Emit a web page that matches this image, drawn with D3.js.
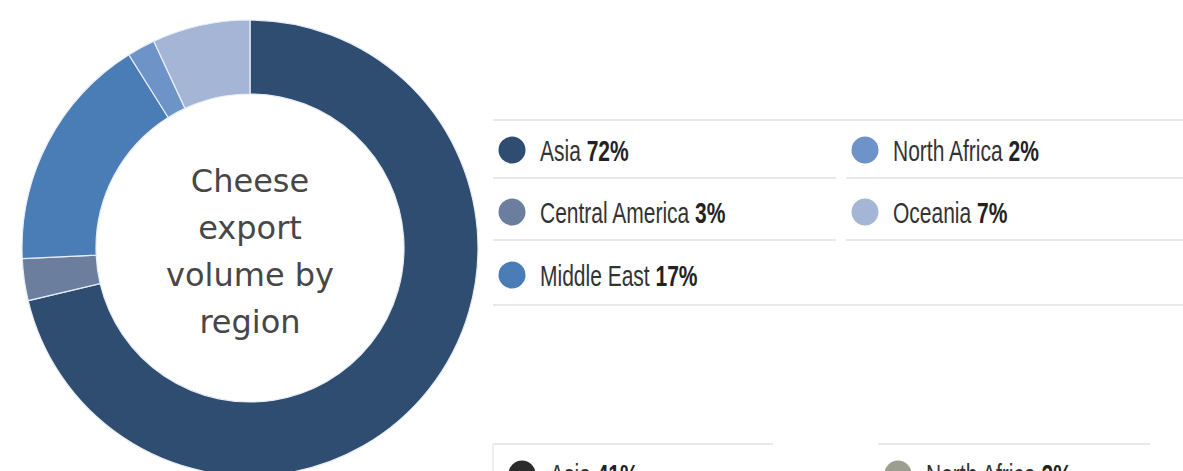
<!DOCTYPE html>
<html>
<head>
<meta charset="utf-8">
<script src="https://cdn.jsdelivr.net/npm/d3@7"></script>
<style>
  html, body { margin: 0; padding: 0; background: #fff; }
  svg { display: block; }
</style>
</head>
<body>
<svg id="chart" width="1183" height="471"></svg>
<script>
// Cheese export volume by region (shares in %)
const regions = ["Asia", "Central America", "Middle East", "North Africa", "Oceania"];
const shares = [72, 3, 17, 2, 7];
const regionColors = ["#2e4d70", "#6b7e9d", "#4a7db5", "#6d93c8", "#a4b5d6"];

// Next panel's legend (only its first row shows)
const nextRegions = ["Asia", "North Africa"];
const nextShares = [41, 2];
const nextColors = ["#2b2b2b", "#9c9e90"];

const centerTitle = ["Cheese", "export", "volume by", "region"];

const svg = d3.select("#chart");
const W = 1183, H = 471;

// ---- Donut ----
const cx = 250, cy = 248, outerR = 228, innerR = 154;
const pie = d3.pie().sort(null).value(d => d.value);
const arc = d3.arc().innerRadius(innerR).outerRadius(outerR);
const slices = pie(regions.map((r, i) => ({ region: r, value: shares[i], color: regionColors[i] })));

const donut = svg.append("g").attr("transform", `translate(${cx},${cy})`);
donut.selectAll("path")
  .data(slices)
  .join("path")
  .attr("d", arc)
  .attr("fill", d => d.data.color)
  .attr("stroke", "#e8eef8")
  .attr("stroke-width", 1.2);

donut.append("text")
  .attr("text-anchor", "middle")
  .attr("font-family", "DejaVu Sans, sans-serif")
  .attr("font-size", 32)
  .attr("fill", "#474747")
  .selectAll("tspan")
  .data(centerTitle)
  .join("tspan")
  .attr("x", 0)
  .attr("y", (d, i) => -56 + i * 47)
  .text(d => d);

// ---- Legend ----
const grid = svg.append("g");
const legendLeft = 493, legendRight = W;
const colX = [493, 846];
const colEnd = [836, W];
const rowLines = [120, 178, 240, 305];
const rowY = [150, 212, 275];
const lineColor = "#e2e2e2";

// full-width top and bottom rules
[rowLines[0], rowLines[3]].forEach(y => {
  grid.append("line")
    .attr("x1", legendLeft).attr("x2", legendRight)
    .attr("y1", y).attr("y2", y)
    .attr("stroke", lineColor).attr("stroke-width", 1.6);
});
// per-column row separators
[rowLines[1], rowLines[2]].forEach(y => {
  colX.forEach((x, c) => {
    grid.append("line")
      .attr("x1", x).attr("x2", colEnd[c])
      .attr("y1", y).attr("y2", y)
      .attr("stroke", lineColor).attr("stroke-width", 1.6);
  });
});

function legendItem(parent, x, y, color, name, value, textFill, boldFill) {
  const g = parent.append("g");
  g.append("circle")
    .attr("cx", x + 19).attr("cy", y)
    .attr("r", 13.5)
    .attr("fill", color);
  const t = g.append("g")
    .attr("transform", `translate(${x + 47},${y + 11}) scale(0.7,1)`)
    .append("text")
    .attr("font-family", "Liberation Sans, Arial, sans-serif")
    .attr("font-size", 30)
    .attr("fill", textFill);
  t.append("tspan").text(name + " ");
  t.append("tspan").attr("font-weight", "bold").attr("fill", boldFill).text(value + "%");
}

const legend = svg.append("g");
regions.forEach((r, i) => {
  const col = Math.floor(i / 3), row = i % 3;
  legendItem(legend, colX[col], rowY[row], regionColors[i], r, shares[i], "#333333", "#222222");
});

// ---- Next panel legend (clipped by the bottom edge) ----
const next = svg.append("g");
next.append("line")
  .attr("x1", 493).attr("x2", 773).attr("y1", 444).attr("y2", 444)
  .attr("stroke", lineColor).attr("stroke-width", 1.6);
next.append("line")
  .attr("x1", 878).attr("x2", 1150).attr("y1", 444).attr("y2", 444)
  .attr("stroke", lineColor).attr("stroke-width", 1.6);
next.append("line")
  .attr("x1", 493).attr("x2", 493).attr("y1", 444).attr("y2", H)
  .attr("stroke", lineColor).attr("stroke-width", 1.2);
const nextX = [503, 879];
nextRegions.forEach((r, i) => {
  legendItem(next, nextX[i], 474, nextColors[i], r, nextShares[i], "#333333", "#222222");
});
</script>
</body>
</html>
